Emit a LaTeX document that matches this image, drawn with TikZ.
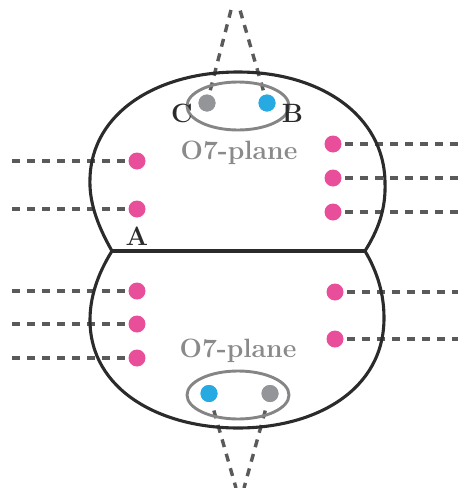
\documentclass[tikz,border=0pt]{standalone}
\usetikzlibrary{shapes.geometric}
\definecolor{pinkdot}{HTML}{E94E9B}
\definecolor{bluedot}{HTML}{27AAE1}
\definecolor{graydot}{HTML}{939598}
\definecolor{ovalgray}{HTML}{858585}
\definecolor{textgray}{HTML}{8A8A8A}
\definecolor{dashgray}{HTML}{5A5A5A}
\definecolor{outlinecol}{HTML}{2B2B2B}
\begin{document}
\begin{tikzpicture}[x=1pt,y=-1pt,
  dot/.style={circle,inner sep=0pt,minimum size=17pt},
  pk/.style={dot,fill=pinkdot},
  bl/.style={dot,fill=bluedot},
  gr/.style={dot,fill=graydot},
  dline/.style={draw=dashgray,line width=3.4pt,dash pattern=on 8pt off 7pt},
  outline/.style={draw=outlinecol,line width=3.1pt,line join=round},
  oval/.style={ellipse,draw=ovalgray,line width=2.9pt,minimum width=102pt,minimum height=48pt,inner sep=0pt},
  lab/.style={font=\fontsize{26.5}{30}\selectfont\bfseries,text=outlinecol,inner sep=0pt,anchor=base},
  plane/.style={font=\fontsize{26.5}{30}\selectfont\bfseries,text=textgray,inner sep=0pt,anchor=base}
]
\useasboundingbox (0,0) rectangle (458,488);

% dots
\node[gr] (C) at (207,103) {};
\node[bl] (B) at (267,103) {};
\node[bl] (D) at (209,393.5) {};
\node[gr] (E) at (270,393.5) {};
\node[pk] (l1) at (137,161) {};
\node[pk] (l2) at (137,209) {};
\node[pk] (l3) at (137,291) {};
\node[pk] (l4) at (137,324) {};
\node[pk] (l5) at (137,358) {};
\node[pk] (r1) at (333,144) {};
\node[pk] (r2) at (333,178) {};
\node[pk] (r3) at (333,212) {};
\node[pk] (r4) at (335,292) {};
\node[pk] (r5) at (335,339) {};

% free ends
\coordinate (tC) at (231,10);
\coordinate (tB) at (240,10);
\coordinate (bD) at (236,488);
\coordinate (bE) at (244,488);
\foreach \n/\y in {l1/161,l2/209,l3/291,l4/324,l5/358}
  \coordinate (e\n) at (9,\y);
\foreach \n/\y in {r1/144,r2/178,r3/212,r4/292,r5/339}
  \coordinate (e\n) at (458,\y);

% dashed connectors
\foreach \n in {l1,l2,l3,l4,l5,r1,r2,r3,r4,r5}
  \draw[dline,shorten <=3.5pt] (\n) -- (e\n);
\draw[dline,shorten <=4.5pt] (C) -- (tC);
\draw[dline,shorten <=4.5pt] (B) -- (tB);
\draw[dline,shorten <=9pt] (D) -- (bD);
\draw[dline,shorten <=9pt] (E) -- (bE);

% outline
\coordinate (jL) at (112,251);
\coordinate (jR) at (365,251);
\draw[outline] (jL) .. controls (96,223) and (89,200) .. (90,178)
  .. controls (92,112) and (158,72) .. (238,72)
  .. controls (320,72) and (384,115) .. (385,182)
  .. controls (386,210) and (378,230) .. (jR);
\draw[outline] (jL) .. controls (97,275) and (90,298) .. (90,320)
  .. controls (90,390) and (160,428) .. (238,428)
  .. controls (316,428) and (384,390) .. (384,318)
  .. controls (384,295) and (378,273) .. (jR);
\draw[outline] (jL) -- (jR);

% ovals
\node[oval] (o1) at (238,106) {};
\node[oval] (o2) at (238,395) {};
\node[gr] at (C) {};
\node[bl] at (B) {};
\node[bl] at (D) {};
\node[gr] at (E) {};

% labels
\node[lab] (tA) at (137,245) {A};
\node[lab] (tCl) at (182,122) {C};
\node[lab] (tBl) at (292.5,122) {B};
\node[plane] (p1) at (239,159) {O7-plane};
\node[plane] (p2) at (238,357) {O7-plane};
\end{tikzpicture}
\end{document}
